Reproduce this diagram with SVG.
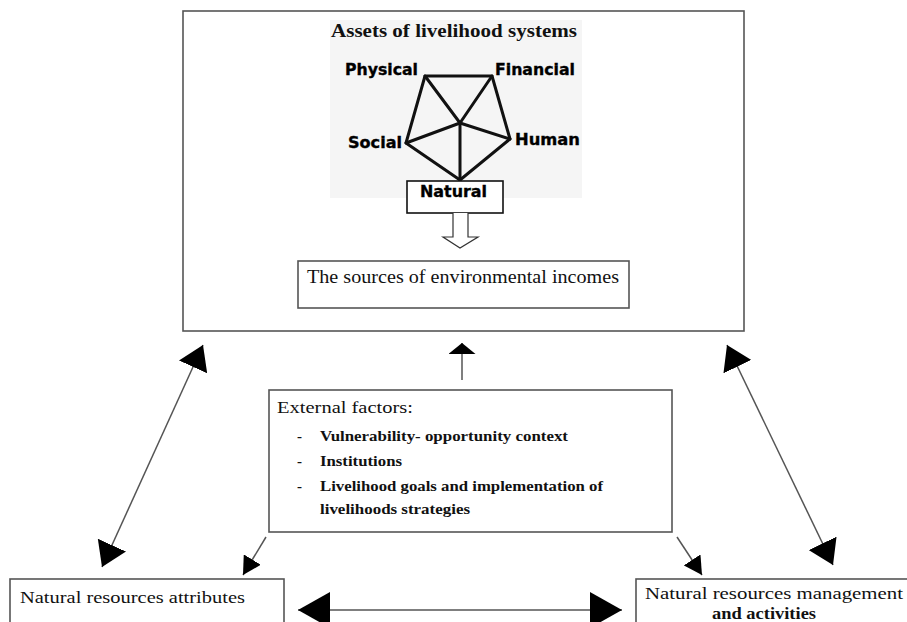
<svg xmlns="http://www.w3.org/2000/svg" width="907" height="622" viewBox="0 0 907 622">
  <style>
    .box { fill: #ffffff; stroke: #555555; stroke-width: 1.6; }
    .serif { font-family: "Liberation Serif", "Times New Roman", serif; fill: #111111; }
    .sans { font-family: "DejaVu Sans", "Liberation Sans", sans-serif; font-weight: bold; fill: #000000; stroke: #000000; stroke-width: 0.35; }
    .penta { stroke: #111111; stroke-width: 3; fill: none; stroke-linejoin: round; stroke-linecap: round; }
    .conn { stroke: #555555; stroke-width: 1.5; fill: none; }
  </style>
  <defs>
    <marker id="bigHead" viewBox="0 0 24 31" refX="24" refY="15.5" markerWidth="24" markerHeight="31" markerUnits="userSpaceOnUse" orient="auto-start-reverse">
      <path d="M0,0 L24,15.5 L0,31 z" fill="#000000"/>
    </marker>
    <marker id="midHead" viewBox="0 0 32 36" refX="32" refY="18" markerWidth="32" markerHeight="36" markerUnits="userSpaceOnUse" orient="auto-start-reverse">
      <path d="M0,0 L32,18 L0,36 z" fill="#000000"/>
    </marker>
    <marker id="smallHead" viewBox="0 0 18 20" refX="18" refY="10" markerWidth="18" markerHeight="20" markerUnits="userSpaceOnUse" orient="auto">
      <path d="M0,0 L18,10 L0,20 z" fill="#000000"/>
    </marker>
    <marker id="upHead" viewBox="0 0 11 27" refX="11" refY="13.5" markerWidth="11" markerHeight="27" markerUnits="userSpaceOnUse" orient="auto">
      <path d="M0,0 L11,13.5 L0,27 z" fill="#000000"/>
    </marker>
  </defs>

  <g id="assets-box">
    <rect class="box" x="183" y="11" width="561" height="320"/>
    <rect x="330" y="20" width="252" height="178" fill="#f5f5f5"/>
    <text class="serif" x="454" y="37" font-size="18" font-weight="bold" text-anchor="middle" textLength="246" lengthAdjust="spacingAndGlyphs">Assets of livelihood systems</text>
    <g id="pentagon">
      <polygon class="penta" points="425,76 492,76 510,139 460,180 406,143"/>
      <line class="penta" x1="425" y1="76" x2="460" y2="123"/>
      <line class="penta" x1="492" y1="76" x2="460" y2="123"/>
      <line class="penta" x1="406" y1="143" x2="460" y2="123"/>
      <line class="penta" x1="510" y1="139" x2="460" y2="123"/>
      <line class="penta" x1="460" y1="123" x2="460" y2="180"/>
    </g>
    <text class="sans" x="345" y="75" font-size="15.5" textLength="73" lengthAdjust="spacingAndGlyphs">Physical</text>
    <text class="sans" x="495" y="75" font-size="15.5" textLength="80" lengthAdjust="spacingAndGlyphs">Financial</text>
    <text class="sans" x="348" y="148" font-size="15.5" textLength="54" lengthAdjust="spacingAndGlyphs">Social</text>
    <text class="sans" x="515" y="145" font-size="15.5" textLength="65" lengthAdjust="spacingAndGlyphs">Human</text>
    <g id="natural">
      <rect x="407" y="181" width="96" height="32" fill="#ffffff" stroke="#111111" stroke-width="1.6"/>
      <text class="sans" x="420" y="197" font-size="15.5" textLength="67" lengthAdjust="spacingAndGlyphs">Natural</text>
    </g>
    <path d="M453,213 L453,237 L443,237 L460,248 L478,237 L468,237 L468,213" fill="#ffffff" stroke="#333333" stroke-width="1.2"/>
    <g id="sources">
      <rect class="box" x="298" y="261" width="331" height="47"/>
      <text class="serif" x="307" y="283" font-size="18" textLength="312" lengthAdjust="spacingAndGlyphs">The sources of environmental incomes</text>
    </g>
  </g>

  <g id="external-factors">
    <rect class="box" x="269" y="390" width="403" height="142"/>
    <text class="serif" x="277" y="413" font-size="17" textLength="136" lengthAdjust="spacingAndGlyphs">External factors:</text>
    <text class="serif" x="297" y="441" font-size="15" font-weight="bold">-</text>
    <text class="serif" x="320" y="441" font-size="15" font-weight="bold" textLength="248" lengthAdjust="spacingAndGlyphs">Vulnerability- opportunity context</text>
    <text class="serif" x="297" y="466" font-size="15" font-weight="bold">-</text>
    <text class="serif" x="320" y="466" font-size="15" font-weight="bold" textLength="82" lengthAdjust="spacingAndGlyphs">Institutions</text>
    <text class="serif" x="297" y="491" font-size="15" font-weight="bold">-</text>
    <text class="serif" x="320" y="491" font-size="15" font-weight="bold" textLength="283" lengthAdjust="spacingAndGlyphs">Livelihood goals and implementation of</text>
    <text class="serif" x="320" y="514" font-size="15" font-weight="bold" textLength="150" lengthAdjust="spacingAndGlyphs">livelihoods strategies</text>
  </g>

  <g id="nr-attributes">
    <rect class="box" x="10" y="579" width="274" height="60"/>
    <text class="serif" x="20" y="603" font-size="17" textLength="225" lengthAdjust="spacingAndGlyphs">Natural resources attributes</text>
  </g>

  <g id="nr-management">
    <rect class="box" x="636" y="579" width="290" height="60"/>
    <text class="serif" x="645" y="599" font-size="16" textLength="258" lengthAdjust="spacingAndGlyphs">Natural resources management</text>
    <text class="serif" x="712" y="619" font-size="16" font-weight="bold" textLength="104" lengthAdjust="spacingAndGlyphs">and activities</text>
  </g>

  <g id="connectors">
    <line class="conn" x1="102" y1="567" x2="203" y2="345" marker-start="url(#bigHead)" marker-end="url(#bigHead)"/>
    <line class="conn" x1="833" y1="565" x2="727" y2="345" marker-start="url(#bigHead)" marker-end="url(#bigHead)"/>
    <line class="conn" x1="298" y1="610" x2="622" y2="610" marker-start="url(#midHead)" marker-end="url(#midHead)"/>
    <line class="conn" x1="266" y1="537" x2="243" y2="575" marker-end="url(#smallHead)"/>
    <line class="conn" x1="677" y1="537" x2="702" y2="575" marker-end="url(#smallHead)"/>
    <line class="conn" x1="462" y1="380" x2="462" y2="343" marker-end="url(#upHead)"/>
  </g>
</svg>
